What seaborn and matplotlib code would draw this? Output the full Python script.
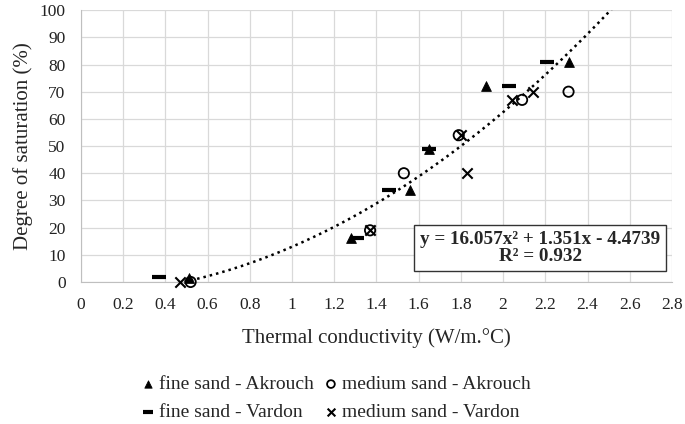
import matplotlib
matplotlib.use('Agg')
import matplotlib.pyplot as plt
import seaborn as sns
import numpy as np
import pandas as pd

# data
fine_akrouch_x = [0.51, 1.28, 1.56, 1.65, 1.92, 2.31]
fine_akrouch_y = [1.5, 16, 34, 49, 72, 81]
fine_vardon_x = [0.37, 1.31, 1.46, 1.65, 2.03, 2.21]
fine_vardon_y = [2, 16, 34, 49, 72, 81]
medium_akrouch_x = [0.52, 1.37, 1.53, 1.79, 2.09, 2.31]
medium_akrouch_y = [0, 19, 40, 54, 67, 70]
medium_vardon_x = [0.47, 1.37, 1.80, 1.83, 2.04, 2.14]
medium_vardon_y = [0, 19, 54, 40, 67, 70]

coef = [16.057, 1.351, -4.4739]
r2 = 0.932
x_ticks = np.arange(0, 2.81, 0.2)
y_ticks = np.arange(0, 101, 10)

sns.set_style('white')
plt.rcParams['font.family'] = ['Liberation Serif', 'DejaVu Serif']

fig, ax = plt.subplots(figsize=(6.85, 4.24), dpi=100)
fig.subplots_adjust(left=0.118, right=0.981, top=0.976, bottom=0.335)

series = [
    ('fine sand - Akrouch', fine_akrouch_x, fine_akrouch_y,
     dict(marker='^', s=50, color='black', edgecolor='black')),
    ('fine sand - Vardon', fine_vardon_x, fine_vardon_y,
     dict(marker='_', s=110, color='black', linewidth=3)),
    ('medium sand - Akrouch', medium_akrouch_x, medium_akrouch_y,
     dict(marker='o', s=55, facecolor='none', edgecolor='black', linewidth=1.3)),
    ('medium sand - Vardon', medium_vardon_x, medium_vardon_y,
     dict(marker='x', s=55, color='black', linewidth=1.5)),
]
for name, xs, ys, kw in series:
    df = pd.DataFrame({'k': xs, 'S': ys})
    sns.scatterplot(data=df, x='k', y='S', ax=ax, label=name, zorder=3,
                    clip_on=False, **kw)

# polynomial trendline
xx = np.linspace(0.37, 2.6, 200)
yy = np.polyval(coef, xx)
sns.lineplot(x=xx, y=yy, ax=ax, color='black', linestyle=(0, (1, 1.6)),
             linewidth=1.8, zorder=2, legend=False)

ax.set_xlim(0, 2.8)
ax.set_ylim(0, 100)
ax.set_xticks(x_ticks)
ax.set_xticklabels([f'{t:g}' for t in np.round(x_ticks, 1)])
ax.set_yticks(y_ticks)
ax.grid(True, color='#d9d9d9', linewidth=0.9)
ax.set_axisbelow(True)
for side in ['top', 'right']:
    ax.spines[side].set_visible(False)
ax.spines['left'].set_color('#bfbfbf')
ax.spines['bottom'].set_color('#bfbfbf')
ax.tick_params(axis='both', direction='out', length=5, color='#bfbfbf',
               labelsize=12.5, labelcolor='#222222', pad=6)
ax.set_xlabel('Thermal conductivity (W/m.°C)', fontsize=15, labelpad=11)
ax.set_ylabel('Degree of saturation (%)', fontsize=15, labelpad=5)

ax.text(0.777, 0.125,
        f'y = {coef[0]:.3f}x² + {coef[1]:.3f}x - {abs(coef[2]):.4f}\nR² = {r2:.3f}',
        transform=ax.transAxes, ha='center', va='center', fontsize=13.8,
        fontweight='bold', linespacing=1.05,
        bbox=dict(boxstyle='square,pad=0.3', facecolor='white',
                  edgecolor='#333333', linewidth=1))

handles, labels = ax.get_legend_handles_labels()
ax.legend(handles, labels,
          loc='upper center', bbox_to_anchor=(0.432, -0.28), ncol=2,
          frameon=False, fontsize=14, handlelength=0.6, handletextpad=0.25,
          columnspacing=0.6, markerscale=0.75, labelspacing=0.55)

fig.savefig('out.png', dpi=100)
